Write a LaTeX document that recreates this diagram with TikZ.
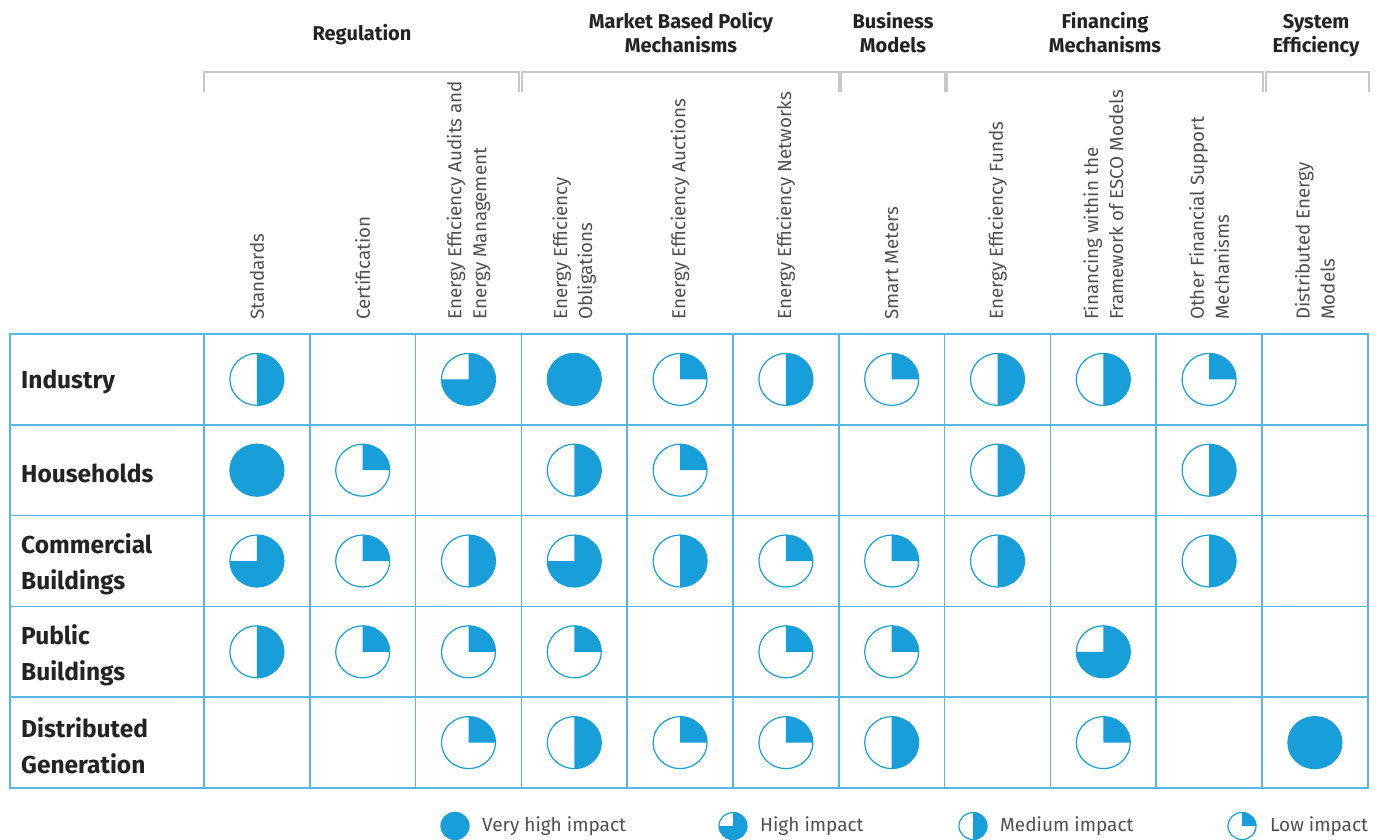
\documentclass[tikz,border=0pt]{standalone}
\usepackage{fontspec}
\setmainfont{Fira Sans}
\usetikzlibrary{positioning}
\definecolor{impblue}{RGB}{24,158,217}
\definecolor{gridblue}{RGB}{88,182,228}
\definecolor{bracketgray}{RGB}{200,200,200}
\definecolor{labeltext}{RGB}{35,35,35}
\definecolor{lighttext}{RGB}{80,80,80}

\tikzset{
  pics/impact/.style={code={
    \fill[white] (0,0) ellipse [x radius=27, y radius=26];
    \fill[impblue] (0,0) -- (0,26) arc [start angle=90, delta angle=-#1, x radius=27, y radius=26] -- cycle;
    \draw[impblue, line width=1.2] (0,0) ellipse [x radius=27, y radius=26];
  }},
  rowlabel/.style={anchor=west, align=left, inner sep=0pt, text=labeltext,
    font=\fontsize{24.5}{36}\selectfont\bfseries},
  colhead/.style={rotate=90, anchor=west, align=left, inner sep=0pt, text=lighttext,
    font=\fontsize{18.8}{25}\selectfont},
  grouphead/.style={align=center, inner sep=0pt, text=labeltext,
    font=\fontsize{20}{24}\selectfont\bfseries},
  legendtext/.style={anchor=west, inner sep=0pt, text=lighttext,
    font=\fontsize{19}{22}\selectfont},
  bracket/.style={draw=bracketgray, line width=1.3}
}

\begin{document}
\begin{tikzpicture}[x=1pt, y=1pt]
    \useasboundingbox (0,0) rectangle (1383,839);

    % group brackets and headings
    \foreach \xa/\xb in {204/519, 522/839, 841/945, 947/1263, 1266/1369}
        \draw[bracket] (\xa,747) -- (\xa,767) -- (\xb,767) -- (\xb,747);
    \node[grouphead] (regulation) at (362,804) {Regulation};
    \node[grouphead] (market) at (681,806) {Market Based Policy\\Mechanisms};
    \node[grouphead] (business) at (893,806) {Business\\Models};
    \node[grouphead] (financing) at (1105,806) {Financing\\Mechanisms};
    \node[grouphead] (system) at (1316,803) {System\\Efficiency};

    % column headings
    \foreach \c/\txt in {1/Standards, 2/Certification,
        3/{Energy Efficiency Audits and\\Energy Management},
        4/{Energy Efficiency\\Obligations}, 5/Energy Efficiency Auctions,
        6/Energy Efficiency Networks, 7/Smart Meters, 8/Energy Efficiency Funds,
        9/{Financing within the\\Framework of ESCO Models},
        10/{Other Financial Support\\Mechanisms}, 11/{Distributed Energy\\Models}}
        \node[colhead] (col\c) at ({204+(\c-0.5)*105.8},519) {\txt};

    % table grid
    \draw[gridblue, line width=1.6] (10,51) rectangle (1368,505);
    \foreach \r in {1,...,4}
        \draw[gridblue, line width=1.6] (10,{505-\r*90.8}) -- (1368,{505-\r*90.8});
    \foreach \c in {0,...,10}
        \draw[gridblue, line width=1.6] ({204+\c*105.8},51) -- ({204+\c*105.8},505);

    % row labels
    \node[rowlabel] (industry) at (21,{502-0.5*90.8}) {Industry};
    \node[rowlabel] (households) at (21,{502-1.5*90.8}) {Households};
    \node[rowlabel] (commercial) at (21,{502-2.5*90.8}) {Commercial\\Buildings};
    \node[rowlabel] (public) at (21,{502-3.5*90.8}) {Public\\Buildings};
    \node[rowlabel] (distgen) at (21,{502-4.5*90.8}) {Distributed\\Generation};

    % impact marks: row/column/filled angle
    \foreach \r/\c/\a in {1/1/180, 1/3/270, 1/4/360, 1/5/90, 1/6/180, 1/7/90, 1/8/180, 1/9/180, 1/10/90,
        2/1/360, 2/2/90, 2/4/180, 2/5/90, 2/8/180, 2/10/180,
        3/1/270, 3/2/90, 3/3/180, 3/4/270, 3/5/180, 3/6/90, 3/7/90, 3/8/180, 3/10/180,
        4/1/180, 4/2/90, 4/3/90, 4/4/90, 4/6/90, 4/7/90, 4/9/270,
        5/3/90, 5/4/180, 5/5/90, 5/6/90, 5/7/180, 5/9/90, 5/11/360}
        \pic at ({204+(\c-0.5)*105.8},{505-(\r-0.5)*90.8}) {impact=\a};

    % legend
    \pic[scale=0.52] at (455,13) {impact=360};
    \node[legendtext] (veryhigh) at (482,13) {Very high impact};
    \pic[scale=0.52] at (733,13) {impact=270};
    \node[legendtext] (high) at (760,13) {High impact};
    \pic[scale=0.52] at (973,13) {impact=180};
    \node[legendtext] (medium) at (1000,13) {Medium impact};
    \pic[scale=0.52] at (1242,13) {impact=90};
    \node[legendtext] (low) at (1270,13) {Low impact};
\end{tikzpicture}
\end{document}
